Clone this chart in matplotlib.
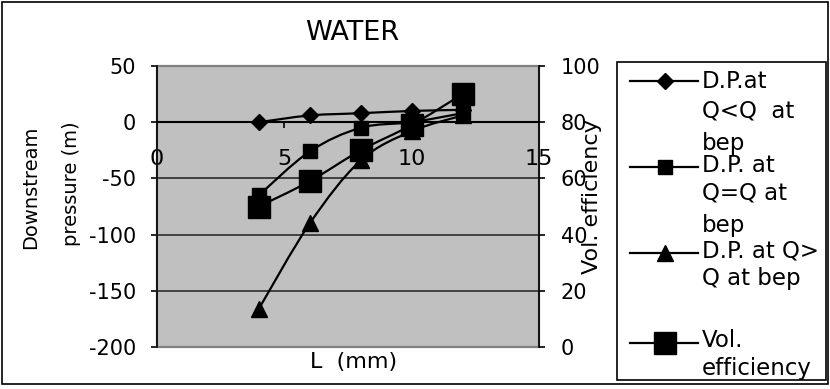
import numpy as np
import matplotlib
matplotlib.use("Agg")
import matplotlib.pyplot as plt
from matplotlib.path import Path
from matplotlib.patches import PathPatch, Rectangle
from matplotlib.lines import Line2D

plt.rcParams["font.family"] = ["DejaVu Sans"]
plt.rcParams["axes.unicode_minus"] = False

# ---- data -------------------------------------------------------------
L_mm = [4, 6, 8, 10, 12]
dp_below_bep = [0, 6, 8, 10, 11]        # D.P. at Q<Q at bep
dp_at_bep = [-65, -26, -5, 0, 8]        # D.P. at Q=Q at bep
dp_above_bep = [-166, -90, -34, -8, 6]  # D.P. at Q>Q at bep
vol_efficiency = [50, 59, 70, 79, 90]   # secondary axis

x_ticks = [0, 5, 10, 15]
left_ticks = [-200, -150, -100, -50, 0, 50]
right_ticks = [0, 20, 40, 60, 80, 100]

legend_labels = [
    ["D.P.at", "Q<Q  at", "bep"],
    ["D.P. at", "Q=Q at", "bep"],
    ["D.P. at Q>", "Q at bep"],
    ["Vol.", "efficiency"],
]

# ---- figure -----------------------------------------------------------
W, H = 830, 389
fig = plt.figure(figsize=(W / 100, H / 100), dpi=100)


def fx(px):
    return px / W


def fy(py):
    return 1 - py / H


ax = fig.add_axes([fx(157), fy(347), fx(539) - fx(157), fy(66) - fy(347)])
ax2 = ax.twinx()


def smooth_path(xs, ys):
    """Smoothed connector through the points (cubic Bezier, Catmull-Rom style)."""
    pts = np.column_stack([xs, ys]).astype(float)
    n = len(pts)
    verts = [pts[0]]
    codes = [Path.MOVETO]
    for i in range(n - 1):
        p0 = pts[max(i - 1, 0)]
        p1 = pts[i]
        p2 = pts[i + 1]
        p3 = pts[min(i + 2, n - 1)]
        verts += [p1 + (p2 - p0) / 6, p2 - (p3 - p1) / 6, p2]
        codes += [Path.CURVE4] * 3
    return Path(verts, codes)


LW = 1.6
series = [
    (ax, dp_below_bep, "D", 8.5),
    (ax, dp_at_bep, "s", 10),
    (ax, dp_above_bep, "^", 12),
    (ax2, vol_efficiency, "s", 16),
]
for target, vals, mk, ms in series:
    target.add_patch(PathPatch(smooth_path(L_mm, vals), fill=False,
                               ec="black", lw=LW, zorder=3))
    target.plot(L_mm, vals, ls="none", marker=mk, ms=ms, color="black",
                zorder=4, clip_on=False)

ax.set_xlim(0, 15)
ax.set_ylim(-200, 50)
ax2.set_ylim(0, 100)
ax.set_xticks(x_ticks)
ax.set_yticks(left_ticks)
ax2.set_yticks(right_ticks)

ax.set_facecolor("#C0C0C0")
ax.set_axisbelow(True)
ax.yaxis.grid(True, color="#2a2a2a", lw=1.2)
ax.add_patch(Rectangle((0, 0), 1, 1, transform=ax.transAxes, fill=False,
                       ec="#808080", lw=1.6, zorder=2.5, clip_on=False))

ax.spines["top"].set_visible(False)
ax.spines["right"].set_visible(False)
ax.spines["left"].set_color("black")
ax.spines["left"].set_linewidth(1.2)
ax.spines["bottom"].set_position(("data", 0))
ax.spines["bottom"].set_color("black")
ax.spines["bottom"].set_linewidth(1.5)
ax.spines["bottom"].set_zorder(2.6)
for s in ["left", "top", "bottom"]:
    ax2.spines[s].set_visible(False)
ax2.spines["right"].set_color("black")
ax2.spines["right"].set_linewidth(1.2)

ax.tick_params(axis="y", direction="out", length=4, width=1.2, pad=11,
               labelsize=15)
ax.tick_params(axis="x", direction="out", length=4.5, width=1.2, pad=15,
               labelsize=16)
ax2.tick_params(axis="y", direction="out", length=4.5, width=1.2, pad=11,
                labelsize=15)

# ---- texts -------------------------------------------------------------
fig.text(fx(352), fy(40), "WATER", ha="center", va="baseline", fontsize=19.5)
fig.text(fx(354), fy(368), "L  (mm)", ha="center", va="baseline", fontsize=16)
fig.text(fx(31), fy(187), "Downstream", rotation=90, ha="center",
         va="center", fontsize=14)
fig.text(fx(71.5), fy(184), "pressure (m)", rotation=90, ha="center",
         va="center", fontsize=14)
fig.text(fx(592), fy(197), "Vol. efficiency", rotation=90, ha="center",
         va="center", fontsize=16)

# ---- legend ------------------------------------------------------------
fig.add_artist(Rectangle((fx(617), fy(380)), fx(826) - fx(617),
                         fy(62) - fy(380), transform=fig.transFigure,
                         fill=False, ec="black", lw=1.2))
key_y = [81, 167, 253, 343]
key_markers = [("D", 8.5), ("s", 10), ("^", 12), ("s", 16)]
text_baselines = [[88, 118, 150], [172, 200, 232], [257, 285], [347, 375]]
for yk, (mk, ms), labels, bases in zip(key_y, key_markers, legend_labels,
                                       text_baselines):
    fig.add_artist(Line2D([fx(630), fx(698)], [fy(yk), fy(yk)],
                          transform=fig.transFigure, color="black", lw=LW))
    fig.add_artist(Line2D([fx(665)], [fy(yk)], transform=fig.transFigure,
                          ls="none", marker=mk, ms=ms, color="black"))
    for txt, b in zip(labels, bases):
        fig.text(fx(702), fy(b), txt, ha="left", va="baseline",
                 fontsize=16.5)

# outer chart border
fig.add_artist(Rectangle((fx(2), fy(384)), fx(828) - fx(2), fy(2) - fy(384),
                         transform=fig.transFigure, fill=False, ec="black",
                         lw=1.2))

fig.savefig("out.png", dpi=100)
